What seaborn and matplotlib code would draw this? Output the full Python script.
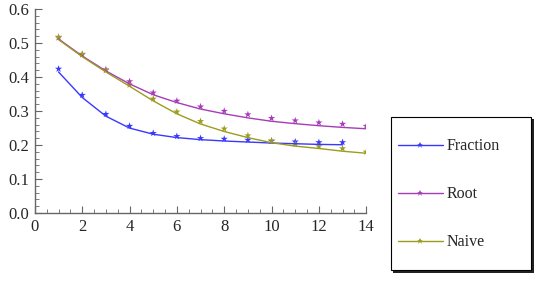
import matplotlib
matplotlib.use("Agg")
import matplotlib.pyplot as plt
from matplotlib.lines import Line2D
from matplotlib.patches import Rectangle
from matplotlib.ticker import MultipleLocator
import pandas as pd
import seaborn as sns

# puntos medidos
x_fraction = [1, 2, 3, 4, 5, 6, 7, 8, 9, 10, 11, 12, 13]
y_fraction = [0.424, 0.347, 0.291, 0.256, 0.235, 0.226, 0.220, 0.218, 0.215, 0.212, 0.210, 0.208, 0.208]
x_root = [1, 2, 3, 4, 5, 6, 7, 8, 9, 10, 11, 12, 13, 14]
y_root = [0.516, 0.466, 0.422, 0.387, 0.354, 0.330, 0.313, 0.300, 0.290, 0.279, 0.272, 0.266, 0.262, 0.256]
x_naive = [1, 2, 3, 4, 5, 6, 7, 8, 9, 10, 11, 12, 13, 14]
y_naive = [0.518, 0.468, 0.420, 0.377, 0.336, 0.298, 0.270, 0.248, 0.228, 0.213, 0.203, 0.196, 0.190, 0.180]

# curvas ajustadas
fit_fraction = [0.415, 0.340, 0.285, 0.250, 0.232, 0.222, 0.216, 0.212, 0.209, 0.206, 0.204, 0.202, 0.201]
fit_root = [0.512, 0.462, 0.418, 0.380, 0.348, 0.325, 0.306, 0.292, 0.280, 0.270, 0.263, 0.257, 0.252, 0.248]
fit_naive = [0.510, 0.460, 0.415, 0.373, 0.330, 0.292, 0.262, 0.240, 0.222, 0.207, 0.197, 0.190, 0.182, 0.176]

nombres = ["Fraction", "Root", "Naive"]
colores = {"Fraction": "#3838ff", "Root": "#a63cb8", "Naive": "#9c9c1e"}

filas = []
for nombre, xs, ys, fs in [("Fraction", x_fraction, y_fraction, fit_fraction),
                           ("Root", x_root, y_root, fit_root),
                           ("Naive", x_naive, y_naive, fit_naive)]:
    for x, y, f in zip(xs, ys, fs):
        filas.append({"x": x, "y": y, "fit": f, "serie": nombre})
df = pd.DataFrame(filas)

sns.set_style("white")
plt.rcParams["font.family"] = ["Liberation Serif", "DejaVu Serif"]

fig = plt.figure(figsize=(5.45, 2.83), dpi=100)
ax = fig.add_axes([0.064, 0.247, 0.608, 0.721])

sns.lineplot(data=df, x="x", y="fit", hue="serie", palette=colores, hue_order=nombres,
             linewidth=1.0, legend=False, ax=ax)
sns.scatterplot(data=df, x="x", y="y", hue="serie", palette=colores, hue_order=nombres,
                marker="*", s=30, linewidth=0, legend=False, ax=ax)

ax.set_xlim(0, 14)
ax.set_ylim(0, 0.6)
ax.set_xlabel("")
ax.set_ylabel("")
ax.xaxis.set_major_locator(MultipleLocator(2))
ax.xaxis.set_minor_locator(MultipleLocator(0.5))
ax.yaxis.set_major_locator(MultipleLocator(0.1))
ax.yaxis.set_minor_locator(MultipleLocator(0.02))
ax.set_yticklabels([f"{v:.1f}" for v in ax.get_yticks()])
ax.tick_params(which="major", direction="in", length=5, width=0.8, color="#666666", labelsize=12, pad=4)
ax.tick_params(which="minor", direction="in", length=3, width=0.6, color="#666666")
ax.tick_params(axis="x", bottom=True, which="both")
ax.tick_params(axis="y", left=True, which="both")
for lado in ["top", "right"]:
    ax.spines[lado].set_visible(False)
for lado in ["left", "bottom"]:
    ax.spines[lado].set_color("#666666")
    ax.spines[lado].set_linewidth(1.0)

# caja de la leyenda con sombra
caja_x, caja_y, caja_w, caja_h = 0.717, 0.046, 0.257, 0.541
sombra = Rectangle((caja_x + 0.005, caja_y - 0.009), caja_w, caja_h, transform=fig.transFigure,
                   facecolor="#222222", edgecolor="none", zorder=1)
caja = Rectangle((caja_x, caja_y), caja_w, caja_h, transform=fig.transFigure,
                 facecolor="white", edgecolor="black", linewidth=0.8, zorder=2)
fig.patches.extend([sombra, caja])

manijas = [Line2D([0], [0], color=colores[n], lw=1.0, marker="*", markersize=5, markeredgewidth=0)
           for n in nombres]
leg = fig.legend(manijas, nombres, loc="upper left", bbox_to_anchor=(0.730, 0.511),
                 numpoints=1, fontsize=11.5, frameon=False,
                 handlelength=2.8, handletextpad=0.25, labelspacing=2.0,
                 borderpad=0, borderaxespad=0)
leg.set_zorder(3)

fig.savefig("out.png", dpi=100)
